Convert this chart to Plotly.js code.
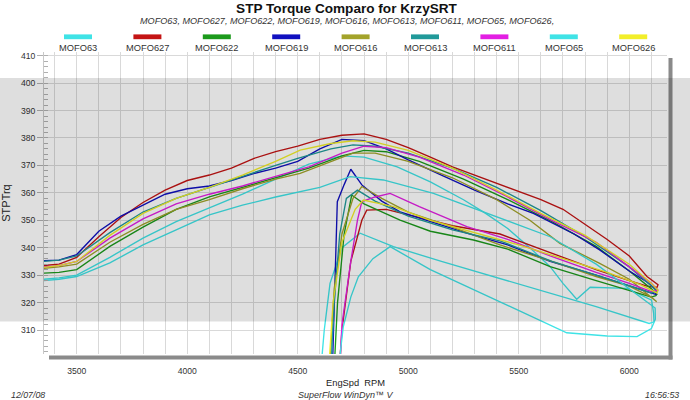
<!DOCTYPE html>
<html>
<head>
<meta charset="utf-8">
<script src="https://cdn.plot.ly/plotly-3.0.1.min.js"></script>
<style>
html,body{margin:0;padding:0;background:#fff;}
#chart{width:690px;height:400px;}
</style>
</head>
<body>
<div id="chart"></div>
<script>
// ---------- data ----------
const seriesNames = ['MOFO63','MOFO627','MOFO622','MOFO619','MOFO616','MOFO613','MOFO611','MOFO65','MOFO626'];
const seriesColors = ['#3fe3e6','#c41414','#1c9a1c','#1010c0','#a3a32a','#219a9a','#e31fe3','#3fe3e6','#f2ee2a'];

const rpm63 = [4605,4620,4646,4700,4782,4933,5150,5415,5642,5850,6090,6112,6110,6101,5990,5823,5762,5700,5642,5550,5450,5350,5250,5100,4950,4800,4700,4550,4400,4250,4100,3950,3800,3650,3500,3420,3350];
const tq63  = [296,310,327,340,345.3,340.4,335,328.8,323.5,318.5,312.4,313,316.1,320.9,325.2,325.6,321.2,327,333.1,340,347,352.5,357.5,364,369.5,373,373.5,370.5,365,359.5,354.5,349.5,343.5,336.5,330,329,328.5];

const rpm627 = [4688,4700,4740,4790,4812,4900,5000,5200,5415,5650,5850,6000,6080,6125,6130,6080,6000,5900,5800,5700,5600,5500,5400,5300,5200,5100,5000,4900,4800,4700,4600,4500,4400,4300,4200,4100,4000,3900,3800,3700,3600,3500,3420,3350];
const tq627  = [296,310,335,350,353.7,354,352,348,345,338,332,328,326,325.5,326.5,329.5,337,343,348.5,354,357.5,360.5,363.5,366.5,369.5,373,376.5,379.5,381.5,381,379.5,377,375,372.5,369,366.5,364.5,361,356.5,351,344,336.5,334,333.5];

const rpm622 = [4665,4680,4710,4744,4800,4963,5100,5295,5450,5642,5850,6000,6100,6120,6125,6100,6000,5850,5650,5450,5250,5050,4900,4800,4700,4550,4400,4250,4100,3950,3800,3650,3500,3420,3350];
const tq622  = [296,320,345,359.2,356,350.1,346,342.8,339.5,333.1,328,324.5,322,322.5,323,325,331.5,340.5,349.5,357.5,365,371.5,375,375.5,373.5,369,365.5,362,358.5,354,347.5,340.5,332,331,330.7];

const rpm619 = [4657,4668,4679,4710,4740,4790,4880,4963,5100,5265,5450,5642,5850,6000,6100,6120,6125,6080,6000,5866,5750,5566,5450,5300,5150,5000,4900,4800,4700,4600,4500,4400,4300,4200,4100,4000,3900,3800,3700,3600,3500,3420,3350];
const tq619  = [296,330,356.8,363,368.6,362.9,357,353.1,349.5,345.3,341,335,330,326,323.5,323,324.5,327.5,331.5,339.2,345,352.5,356,361,366.5,372,376,379,379.5,376,371.5,369,367,364.5,362.5,361.5,359.5,355.5,351.5,346,337.5,335.5,335.3];

const rpm616 = [4645,4665,4700,4750,4790,4880,5000,5200,5415,5650,5850,6000,6100,6124,6000,5866,5686,5550,5400,5200,5000,4850,4750,4650,4511,4400,4250,4100,3950,3800,3650,3500,3420,3350];
const tq616  = [296,325,345,358,362.3,358,353,347.5,341,335,329.5,326,322,320.3,328.5,334.3,341.6,350,357.5,365.5,371.5,374.5,374.5,371.5,367.1,365,361.5,357.5,354,348.5,342,334,333,332.5];

const rpm613 = [4650,4665,4690,4720,4770,4850,5000,5200,5415,5650,5850,6000,6100,6125,6100,6000,5800,5600,5400,5200,5000,4850,4750,4650,4500,4400,4250,4100,3950,3800,3650,3500,3420,3350];
const tq613  = [296,320,345,358,361,357,351.5,346.5,342.5,335,330,326,323.5,324,326,333,344,353.5,362,369,374.5,377,377.5,376,372.6,370,366,362,358,353,345.5,337,335.5,335];

const rpm611 = [4690,4700,4740,4770,4790,4850,4918,5050,5265,5450,5642,5850,6000,6100,6130,6100,6000,5850,5650,5450,5250,5050,4900,4800,4700,4550,4400,4250,4100,3950,3800,3650,3500,3420,3350];
const tq611  = [296,312,335,350,356.8,358.5,359.8,355,347.7,343,337,331,327,324,324.5,327,333,342,350,358.5,366.5,373,376.5,377,374.5,369.5,366,362.5,359.5,356,350.5,343.5,335,333.5,333];

const rpm65 = [4690,4706,4740,4774,4840,4918,5100,5415,5717,5900,6035,6100,6118,6117,6050,5950,5850,5642,5355,5114,4887,4737,4600,4511,4400,4250,4100,3950,3800,3650,3500,3420,3350];
const tq65  = [300,311.2,322,329.4,336,340.4,332,320.3,309,307.8,307.6,310.5,314,318,322,328,334,344,352.5,359.8,364.7,365.9,362,360.4,358.5,355.5,352,346.5,341,334.5,329.5,328.5,328];

const rpm626 = [4640,4660,4700,4760,4797,4933,5100,5300,5500,5700,5900,6050,6125,6130,6100,6000,5800,5600,5400,5200,5000,4850,4750,4650,4511,4400,4250,4100,3950,3800,3650,3500,3420,3350];
const tq626  = [296,320,342,354,357.4,355,350,345.5,341,336,331,326.5,323.5,324.5,327,334,344.5,352.5,361,369,375.5,378.5,379,378,375.6,371.5,366.5,362,358,352.5,344.5,335,333.5,332.8];

const xTickVals = [3500,4000,4500,5000,5500,6000];
const yTickVals = [310,320,330,340,350,360,370,380,390,400,410];

const chartTitle = 'STP Torque Comparo for KrzySRT';
const subTitle = 'MOFO63, MOFO627, MOFO622, MOFO619, MOFO616, MOFO613, MOFO611, MOFO65, MOFO626,';
const xTitle = 'EngSpd\u00a0\u00a0RPM';
const yTitle = 'STPTrq';
const footLeft = '12/07/08';
const footCenter = 'SuperFlow WinDyn\u2122 V';
const footRight = '16:56:53';

// ---------- build ----------
const xs = [rpm63,rpm627,rpm622,rpm619,rpm616,rpm613,rpm611,rpm65,rpm626];
const ys = [tq63,tq627,tq622,tq619,tq616,tq613,tq611,tq65,tq626];

const FONT = 'Liberation Sans, Arial, sans-serif';
const L = 44, R = 667, T = 52, B = 354;
const W = R - L, H = B - T;
const px = x => (x - L) / W;
const py = y => (B - y) / H;

const traces = seriesNames.map((n, i) => ({
  type: 'scatter', mode: 'lines', name: n,
  x: xs[i], y: ys[i],
  line: {color: seriesColors[i], width: 1.35},
  hoverinfo: 'skip'
}));

const shapes = [];
const annotations = [];

// legend
seriesNames.forEach((n, i) => {
  const cx = 78 + 69.4 * i;
  shapes.push({type: 'rect', xref: 'paper', yref: 'paper',
    x0: px(cx - 14), x1: px(cx + 14), y0: py(39.2), y1: py(34.4),
    fillcolor: seriesColors[i], line: {width: 0}});
  annotations.push({xref: 'paper', yref: 'paper', x: px(cx), y: py(47.8),
    xanchor: 'center', yanchor: 'middle', showarrow: false, text: n,
    font: {family: FONT, size: 9.3, color: '#333'}});
});

// frame shadow
shapes.push({type: 'rect', xref: 'paper', yref: 'paper', layer: 'above',
  x0: px(668.5), x1: px(672.5), y0: py(359.6), y1: py(58), fillcolor: '#8a8a8a', line: {width: 0}});
shapes.push({type: 'rect', xref: 'paper', yref: 'paper', layer: 'above',
  x0: px(49), x1: px(672.5), y0: py(359.6), y1: py(355.4), fillcolor: '#8a8a8a', line: {width: 0}});

// gray band across whole picture
shapes.push({type: 'rect', xref: 'paper', yref: 'paper', layer: 'above',
  x0: px(-5), x1: px(700), y0: py(321.5), y1: py(78), fillcolor: 'rgba(0,0,0,0.13)', line: {width: 0}});

// subtitle
annotations.push({xref: 'paper', yref: 'paper', x: px(346.5), y: py(20.5),
  xanchor: 'center', yanchor: 'middle', showarrow: false, text: '<i>' + subTitle + '</i>',
  font: {family: FONT, size: 9.1, color: '#333'}});

// footer
annotations.push({xref: 'paper', yref: 'paper', x: px(9), y: py(395),
  xanchor: 'left', yanchor: 'middle', showarrow: false, text: '<i>' + footLeft + '</i>',
  font: {family: FONT, size: 8.8, color: '#333'}});
annotations.push({xref: 'paper', yref: 'paper', x: px(345), y: py(395),
  xanchor: 'center', yanchor: 'middle', showarrow: false, text: '<i>' + footCenter + '</i>',
  font: {family: FONT, size: 9, color: '#333'}});
annotations.push({xref: 'paper', yref: 'paper', x: px(681), y: py(395),
  xanchor: 'right', yanchor: 'middle', showarrow: false, text: '<i>' + footRight + '</i>',
  font: {family: FONT, size: 8.8, color: '#333'}});

const layout = {
  width: 690, height: 400,
  margin: {l: L, r: 690 - R, t: T, b: 400 - B, pad: 0},
  paper_bgcolor: '#ffffff', plot_bgcolor: '#ffffff',
  showlegend: false,
  font: {family: FONT, size: 9, color: '#333'},
  title: {text: '<b>' + chartTitle + '</b>', x: 346.5 / 690, xanchor: 'center',
    y: 1 - 7.8 / 400, yanchor: 'middle', yref: 'container',
    font: {family: FONT, size: 13.6, color: '#111'}},
  xaxis: {
    range: [3352, 6170.6], tickvals: xTickVals, ticktext: xTickVals.map(String),
    showgrid: true, gridcolor: '#d9d9d9', gridwidth: 1,
    minor: {dtick: 100, tick0: 0, showgrid: true, gridcolor: '#d9d9d9', gridwidth: 1, ticks: ''},
    ticks: 'outside', ticklen: 9, tickcolor: 'rgba(0,0,0,0)',
    tickfont: {family: FONT, size: 8.6, color: '#333'},
    zeroline: false, showline: false,
    title: {text: xTitle, standoff: 4, font: {family: FONT, size: 9.3, color: '#222'}}
  },
  yaxis: {
    range: [301.25, 411.35], tickvals: yTickVals, ticktext: yTickVals.map(String),
    showgrid: true, gridcolor: '#d9d9d9', gridwidth: 1,
    minor: {dtick: 2, tick0: 0, ticks: 'inside', ticklen: 4, tickcolor: '#b0b0b0', showgrid: false},
    ticks: 'outside', ticklen: 6, tickcolor: '#b0b0b0',
    tickfont: {family: FONT, size: 8.6, color: '#333'},
    zeroline: false, showline: true, linecolor: '#c8c8c8', linewidth: 1,
    title: {text: yTitle, standoff: 8, font: {family: FONT, size: 11, color: '#222'}}
  },
  shapes: shapes,
  annotations: annotations
};

Plotly.newPlot('chart', traces, layout, {displayModeBar: false, staticPlot: true});
</script>
</body>
</html>
